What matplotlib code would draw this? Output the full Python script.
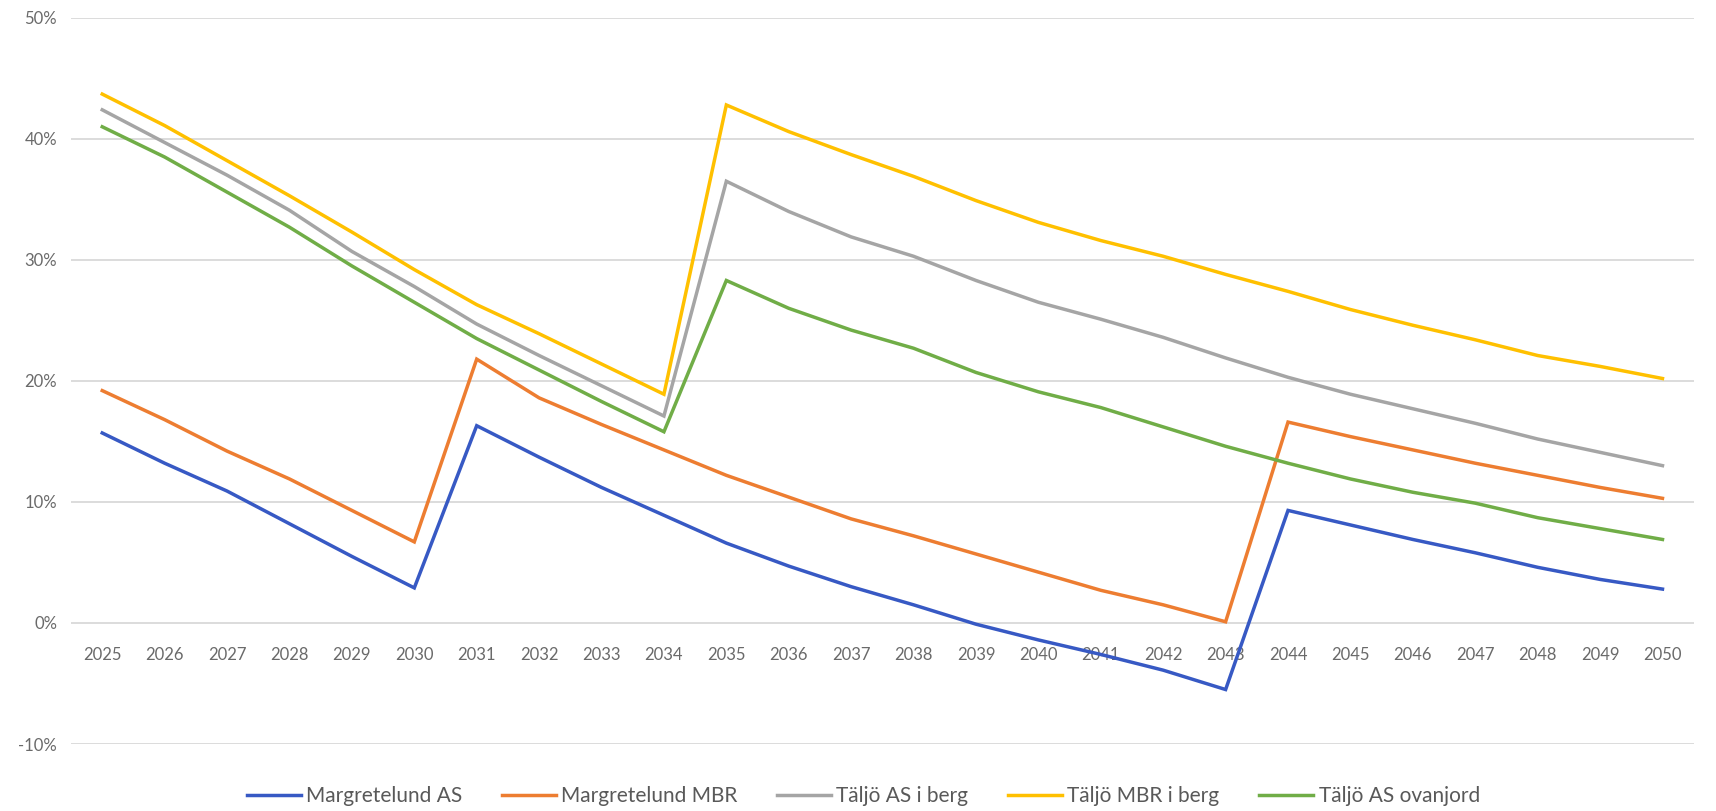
import matplotlib
matplotlib.use("Agg")
import matplotlib.pyplot as plt
from matplotlib.ticker import FuncFormatter, MultipleLocator

years = list(range(2025, 2051))

margretelund_as = [15.7, 13.2, 10.9, 8.2, 5.5, 2.9, 16.3, 13.7, 11.2, 8.9, 6.6, 4.7, 3.0,
                   1.5, -0.1, -1.4, -2.6, -3.9, -5.5, 9.3, 8.1, 6.9, 5.8, 4.6, 3.6, 2.8]
margretelund_mbr = [19.2, 16.8, 14.2, 11.9, 9.3, 6.7, 21.8, 18.6, 16.4, 14.3, 12.2, 10.4, 8.6,
                    7.2, 5.7, 4.2, 2.7, 1.5, 0.1, 16.6, 15.4, 14.3, 13.2, 12.2, 11.2, 10.3]
taljo_as_berg = [42.4, 39.7, 37.0, 34.1, 30.7, 27.8, 24.7, 22.1, 19.6, 17.1, 36.5, 34.0, 31.9,
                 30.3, 28.3, 26.5, 25.1, 23.6, 21.9, 20.3, 18.9, 17.7, 16.5, 15.2, 14.1, 13.0]
taljo_mbr_berg = [43.7, 41.1, 38.2, 35.3, 32.3, 29.2, 26.3, 23.9, 21.4, 18.9, 42.8, 40.6, 38.7,
                  36.9, 34.9, 33.1, 31.6, 30.3, 28.8, 27.4, 25.9, 24.6, 23.4, 22.1, 21.2, 20.2]
taljo_as_ovanjord = [41.0, 38.5, 35.6, 32.7, 29.5, 26.5, 23.5, 20.9, 18.3, 15.8, 28.3, 26.0, 24.2,
                     22.7, 20.7, 19.1, 17.8, 16.2, 14.6, 13.2, 11.9, 10.8, 9.9, 8.7, 7.8, 6.9]

series = [
    ("Margretelund AS", margretelund_as, "#3759c4"),
    ("Margretelund MBR", margretelund_mbr, "#ed7d31"),
    ("Täljö AS i berg", taljo_as_berg, "#a5a5a5"),
    ("Täljö MBR i berg", taljo_mbr_berg, "#ffc000"),
    ("Täljö AS ovanjord", taljo_as_ovanjord, "#70ad47"),
]

plt.rcParams["font.family"] = ["Lato", "DejaVu Sans"]
text_color = "#6a6a6a"

fig = plt.figure(figsize=(17.16, 8.11), dpi=100)
ax = fig.add_axes([0.0414, 0.0826, 0.9456, 0.8954])

x = list(range(len(years)))
for name, values, color in series:
    ax.plot(x, [v / 100 for v in values], color=color, lw=2.5, label=name,
            solid_joinstyle="miter")

ax.set_xlim(-0.5, len(years) - 0.5)
ax.set_ylim(-0.10, 0.50)
ax.yaxis.set_major_locator(MultipleLocator(0.10))
ax.yaxis.set_major_formatter(FuncFormatter(lambda v, _: f"{v * 100:.0f}%"))
ax.grid(axis="y", color="#d9d9d9", lw=1.3)
ax.set_axisbelow(True)

ax.set_xticks(x)
ax.set_xticklabels([str(y) for y in years])
# category axis crosses at 0 %
ax.spines["bottom"].set_position(("data", 0))
for side in ["top", "right", "left", "bottom"]:
    ax.spines[side].set_visible(False)
ax.tick_params(axis="x", length=0, pad=17, labelsize=12, colors=text_color)
ax.tick_params(axis="y", length=0, pad=10, labelsize=12, colors=text_color)

leg = fig.legend(loc="center", bbox_to_anchor=(0.503, 1 - 796 / 811), ncol=5,
                 frameon=False, fontsize=15, handlelength=2.6, handletextpad=0.25,
                 columnspacing=1.9)
for t in leg.get_texts():
    t.set_color("#595959")

fig.savefig("out.png", dpi=100)
